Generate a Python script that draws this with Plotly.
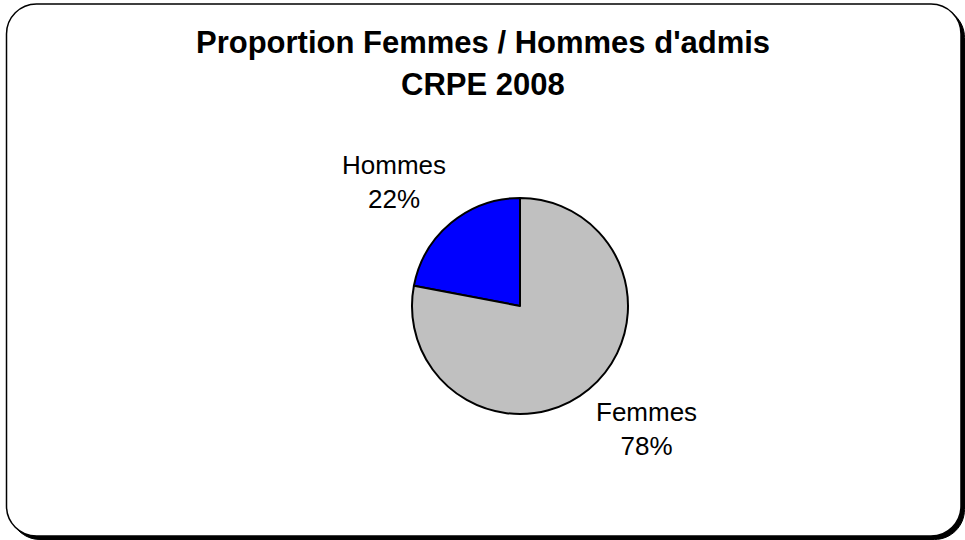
import math
import plotly.graph_objects as go

# data
labels = ["Hommes", "Femmes"]
values = [22, 78]
colors = ["#0000FF", "#C0C0C0"]
title_lines = ["Proportion Femmes / Hommes d'admis", "CRPE 2008"]

W, H = 965, 540
FONT = "Liberation Sans, Arial, sans-serif"

# pie placement in pixels
cx, cy, R = 520, 306, 108


def px(x, y):
    return x / W, 1 - y / H


def rounded_rect(x0, y0, x1, y1, r):
    k = 0.5523 * r
    def P(x, y):
        a, b = px(x, y)
        return f"{a:.5f},{b:.5f}"
    d = f"M {P(x0 + r, y0)} L {P(x1 - r, y0)} "
    d += f"C {P(x1 - r + k, y0)} {P(x1, y0 + r - k)} {P(x1, y0 + r)} "
    d += f"L {P(x1, y1 - r)} "
    d += f"C {P(x1, y1 - r + k)} {P(x1 - r + k, y1)} {P(x1 - r, y1)} "
    d += f"L {P(x0 + r, y1)} "
    d += f"C {P(x0 + r - k, y1)} {P(x0, y1 - r + k)} {P(x0, y1 - r)} "
    d += f"L {P(x0, y0 + r)} "
    d += f"C {P(x0, y0 + r - k)} {P(x0 + r - k, y0)} {P(x0 + r, y0)} Z"
    return d


dx0, dy0 = px(cx - R, cy + R)
dx1, dy1 = px(cx + R, cy - R)

total = sum(values)

# Hommes slice ends at 12 o'clock (sits to its left), Femmes continues clockwise
fig = go.Figure(go.Pie(
    labels=labels,
    values=values,
    sort=False,
    direction="clockwise",
    rotation=-360.0 * values[0] / total,
    marker=dict(colors=colors, line=dict(color="black", width=2)),
    textinfo="none",
    hoverinfo="label+percent",
    domain=dict(x=[dx0, dx1], y=[dy0, dy1]),
    showlegend=False,
))

shapes = [
    dict(type="path", xref="paper", yref="paper", layer="below",
         path=rounded_rect(10, 7.5, 964.5, 539.5, 30),
         fillcolor="black", line=dict(color="black", width=1)),
    dict(type="path", xref="paper", yref="paper", layer="below",
         path=rounded_rect(6.5, 4, 961, 536, 30),
         fillcolor="white", line=dict(color="black", width=1.5)),
]

annotations = [
    dict(text=f"<b>{title_lines[0]}</b>", x=0.5, y=px(0, 43)[1], xref="paper", yref="paper",
         showarrow=False, xanchor="center", yanchor="middle",
         font=dict(family=FONT, size=31, color="black")),
    dict(text=f"<b>{title_lines[1]}</b>", x=0.5, y=px(0, 84)[1], xref="paper", yref="paper",
         showarrow=False, xanchor="center", yanchor="middle",
         font=dict(family=FONT, size=31, color="black")),
]

# slice labels placed beside the slice mid-angle (Hommes goes counterclockwise from 12 o'clock)
start = 90.0
for lab, v in zip(labels, values):
    sweep = 360.0 * v / total
    mid = math.radians(start + sweep / 2)
    start += sweep
    lx = cx + 1.1 * R * math.cos(mid)
    ly = cy - 1.1 * R * math.sin(mid)
    ax, ay = px(lx, ly)
    annotations.append(dict(
        text=f"{lab}<br>{round(100 * v / total)}%", x=ax, y=ay,
        xref="paper", yref="paper", showarrow=False, align="center",
        xanchor="right" if math.cos(mid) < 0 else "left",
        yanchor="bottom" if math.sin(mid) > 0 else "top",
        xshift=4 if math.cos(mid) < 0 else -2,
        yshift=-2 if math.sin(mid) > 0 else 3,
        font=dict(family=FONT, size=26, color="black"),
    ))

fig.update_layout(
    width=W, height=H,
    margin=dict(l=0, r=0, t=0, b=0),
    paper_bgcolor="white",
    plot_bgcolor="white",
    shapes=shapes,
    annotations=annotations,
)

fig.write_html("out.html", config={"displayModeBar": False},
               post_script="document.body.style.margin='0';")
